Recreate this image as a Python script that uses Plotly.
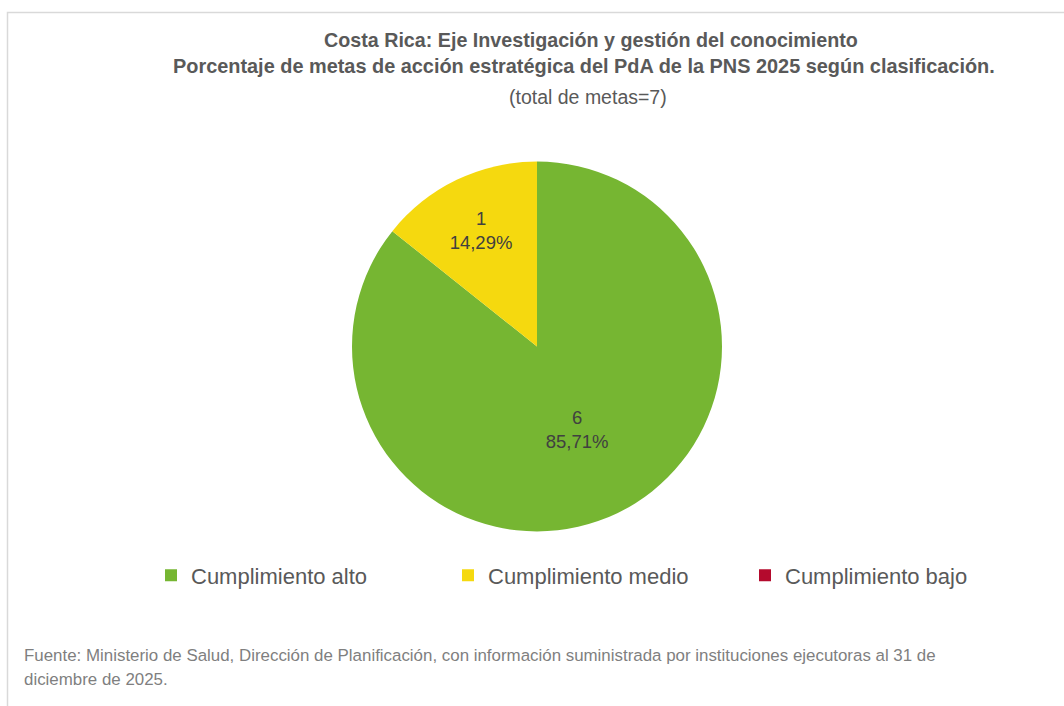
import plotly.graph_objects as go

W, H = 1064, 706

categories = ["Cumplimiento alto", "Cumplimiento medio", "Cumplimiento bajo"]
values = [6, 1, 0]
colors = ["#76b632", "#f5d90f", "#b40a2d"]

title_line1 = "Costa Rica: Eje Investigación y gestión del conocimiento"
title_line2 = "Porcentaje de metas de acción estratégica del PdA de la PNS 2025 según clasificación."
title_line3 = "(total de metas=7)"
source_line1 = "Fuente: Ministerio de Salud, Dirección de Planificación, con información suministrada por instituciones ejecutoras al 31 de"
source_line2 = "diciembre de 2025."

FONT = "Liberation Sans, Arial, sans-serif"

def px_x(x):
    return x / W

def px_y(y):
    return 1 - y / H

cx, cy, r = 537, 346.5, 185

texts = ["%{value}<br>%{percent:.2%}" if v > 0 else "" for v in values]

fig = go.Figure(go.Pie(
    labels=categories,
    values=values,
    sort=False,
    direction="clockwise",
    rotation=0,
    marker=dict(colors=colors, line=dict(width=0)),
    texttemplate=texts,
    textposition="inside",
    insidetextorientation="horizontal",
    textfont=dict(family=FONT, size=18.5, color="#404040"),
    hoverinfo="label+value+percent",
    domain=dict(x=[px_x(cx - r), px_x(cx + r)], y=[px_y(cy + r), px_y(cy - r)]),
    showlegend=True,
))

annotations = [
    dict(text="<b>" + title_line1 + "</b>", x=px_x(591), y=px_y(40), font=dict(size=19.7, color="#595959")),
    dict(text="<b>" + title_line2 + "</b>", x=px_x(584), y=px_y(66), font=dict(size=19.9, color="#595959")),
    dict(text=title_line3, x=px_x(588), y=px_y(97), font=dict(size=19.5, color="#595959")),
    dict(text=source_line1, x=px_x(22), y=px_y(655), xanchor="left", font=dict(size=16.9, color="#7f7f7f")),
    dict(text=source_line2, x=px_x(22), y=px_y(679), xanchor="left", font=dict(size=16.9, color="#7f7f7f")),
]
for a in annotations:
    a.setdefault("xanchor", "center")
    a.update(xref="paper", yref="paper", yanchor="middle", showarrow=False)
    a["font"]["family"] = FONT

fig.update_layout(
    width=W, height=H,
    margin=dict(l=0, r=0, t=0, b=0),
    paper_bgcolor="white",
    plot_bgcolor="white",
    separators=",.",
    font=dict(family=FONT, color="#595959"),
    annotations=annotations,
    legend=dict(
        orientation="h",
        x=px_x(151), y=px_y(575.5), xanchor="left", yanchor="middle",
        font=dict(family=FONT, size=22, color="#595959"),
        entrywidth=252, entrywidthmode="pixels",
        traceorder="normal",
    ),
    shapes=[dict(type="rect", xref="paper", yref="paper",
                 x0=px_x(7.5), x1=1.05, y0=-0.05, y1=px_y(12.5),
                 line=dict(color="#d9d9d9", width=1.5), fillcolor="rgba(0,0,0,0)")],
)

fig.write_html("out.html")
